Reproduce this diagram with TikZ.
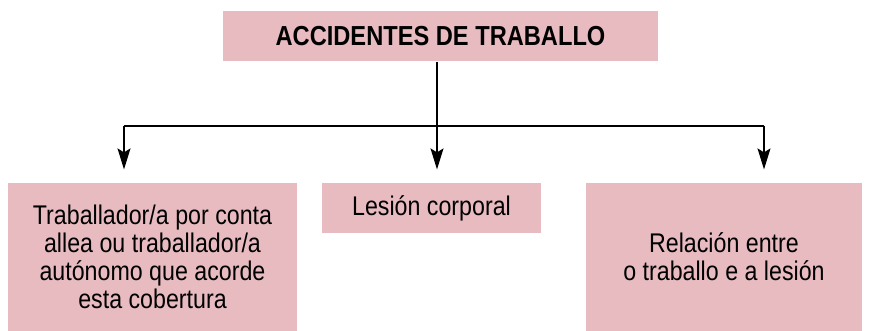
\documentclass[tikz,border=0pt]{standalone}
\usepackage{fontspec}
\setmainfont[FakeStretch=0.86]{Liberation Sans}
\usetikzlibrary{arrows.meta}
\definecolor{boxpink}{RGB}{232,187,192}

\begin{document}
\begin{tikzpicture}[x=1pt, y=1pt, every path/.style={line width=1.2pt}, every node/.style={fill=boxpink, inner sep=0pt, align=center, font=\fontsize{27}{28}\selectfont}]
\useasboundingbox (0,0) rectangle (870,331);
\node[minimum width=435pt, minimum height=50pt, font=\fontsize{27.5}{30}\selectfont\bfseries] (acc) at (440.5,295) {ACCIDENTES DE TRABALLO};
\node[minimum width=289pt, minimum height=148pt] (trab) at (152.5,74) {Traballador/a por conta\\allea ou traballador/a\\autónomo que acorde\\esta cobertura};
\node[minimum width=219pt, minimum height=50pt] (les) at (431.5,123) {Lesión corporal};
\node[minimum width=276pt, minimum height=148pt] (rel) at (724,74) {Relación entre\\o traballo e a lesión};
\coordinate (split) at (437,205);
\coordinate (tl) at (124,205);
\coordinate (tr) at (764,205);

\draw (acc.south -| split) -- (split);
\draw[shorten >=13pt, -{Stealth[length=21pt, width=13pt, inset=4pt]}] (tl) -- (tl |- trab.north);
\draw[shorten >=13pt, -{Stealth[length=21pt, width=13pt, inset=4pt]}] (split) -- (split |- les.north);
\draw[shorten >=13pt, -{Stealth[length=21pt, width=13pt, inset=4pt]}] (tr) -- (tr |- rel.north);
\draw (tl) -- (tr);
\end{tikzpicture}
\end{document}
